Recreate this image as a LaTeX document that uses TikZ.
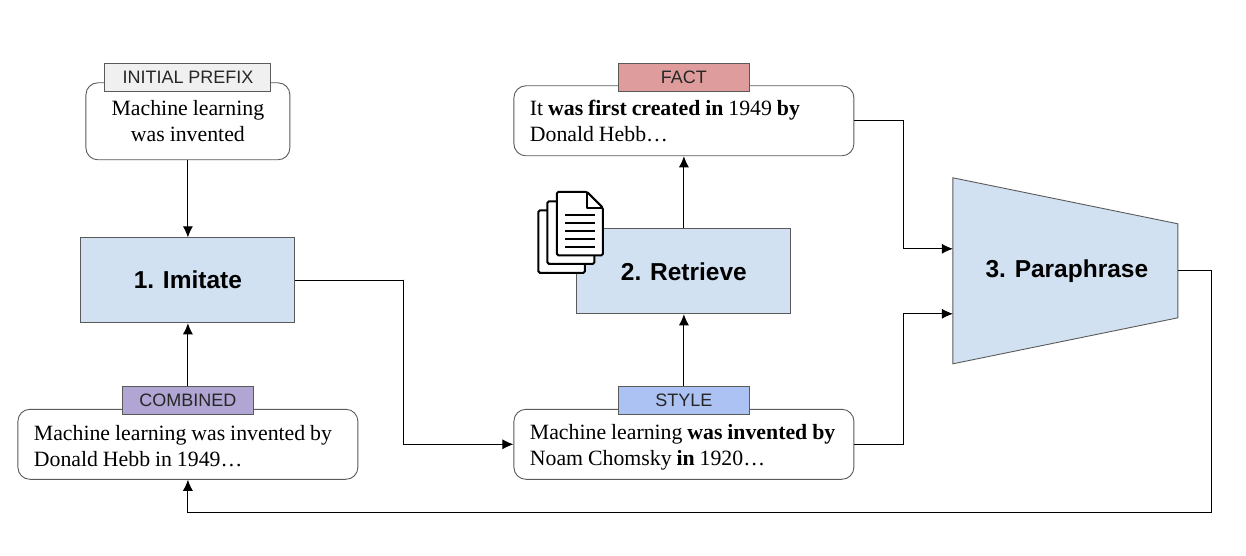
\documentclass[tikz,border=0pt]{standalone}
\usepackage{fontspec}
\setmainfont[WordSpace=0.9]{Liberation Serif}
\setsansfont[WordSpace=0.95]{Liberation Sans}
\usetikzlibrary{arrows.meta}

\definecolor{stepblue}{HTML}{D2E1F2}
\definecolor{linegray}{HTML}{5A5A5A}
\definecolor{tagprefix}{HTML}{F0F0F0}
\definecolor{tagfact}{HTML}{DE9C9D}
\definecolor{tagstyle}{HTML}{ACC2F2}
\definecolor{tagcombined}{HTML}{B1A5D3}

\tikzset{
  textbox/.style={draw=linegray, line width=0.9pt, fill=white, rounded corners=12pt, minimum height=70pt, inner sep=0pt, font=\fontsize{21.8}{26}\selectfont},
  leftbox/.style={textbox, minimum width=340pt, text width=308pt, align=flush left},
  tagbox/.style={draw=linegray, line width=0.9pt, minimum height=28pt, inner sep=0pt, text=black!85, font=\sffamily\fontsize{18}{20}\selectfont},
  stepbox/.style={draw=linegray, line width=0.9pt, fill=stepblue, minimum width=214pt, minimum height=85pt, font=\sffamily\bfseries\fontsize{24.5}{28}\selectfont},
  link/.style={draw=black, line width=0.9pt, -{Latex[length=11pt,width=10pt]}},
  sheet/.style={draw=black, fill=white, line width=2pt, rounded corners=1.5pt}
}

\begin{document}
\begin{tikzpicture}[x=1pt, y=-1pt]
  \useasboundingbox (0.1,0.2) rectangle (1246.1,556.2);

  % steps
  \node[stepbox, text height=20pt, text depth=3pt] (imitate) at (188,280.5) {1. Imitate};
  \node[stepbox, text height=22pt, text depth=3pt] (retrieve) at (684,271.5) {2. Retrieve};

  % paraphrase block
  \coordinate (paraA) at (953,178);
  \coordinate (paraB) at (1178,224);
  \coordinate (paraC) at (1178,318);
  \coordinate (paraD) at (953,364);
  \coordinate (paraIn1) at (953,249);
  \coordinate (paraIn2) at (953,314);
  \coordinate (paraOut) at (1178,271);
  \coordinate (busIn) at (904,280);
  \coordinate (busImitate) at (404,280);
  \coordinate (busBack) at (1212,513);
  \draw[linegray, fill=stepblue, line width=0.9pt] (paraA) -- (paraB) -- (paraC) -- (paraD) -- cycle;
  \node[font=\sffamily\bfseries\fontsize{24.5}{28}\selectfont] (paraphrase) at (1067,271.5) {3. Paraphrase};

  % text boxes
  \node[textbox, minimum width=204pt, minimum height=77pt, align=center] (prefix) at (188,121.5) {Machine learning\\was invented};
  \node[leftbox] (fact) at (684,121) {It \textbf{was first created in} 1949 \textbf{by}\\Donald Hebb…};
  \node[leftbox] (style) at (684,444.5) {\rule{0pt}{22pt}Machine learning \textbf{was invented by}\\Noam Chomsky \textbf{in} 1920…};
  \node[leftbox] (combined) at (188,444.5) {\rule{0pt}{19pt}Machine learning was invented by\\Donald Hebb in 1949…};

  % tags
  \node[tagbox, fill=tagprefix, minimum width=166pt] (tagPrefix) at (188,78) {INITIAL PREFIX};
  \node[tagbox, fill=tagfact, minimum width=131pt] (tagFact) at (684,78) {FACT};
  \node[tagbox, fill=tagstyle, minimum width=131pt] (tagStyle) at (684,400.5) {STYLE};
  \node[tagbox, fill=tagcombined, minimum width=131pt] (tagCombined) at (188,400.5) {COMBINED};

  % connectors
  \draw[link] (prefix.south) -- (imitate.north);
  \draw[link] (tagCombined.north) -- (imitate.south);
  \draw[link] (imitate.east) -| (busImitate) |- (style.west);
  \draw[link] (tagStyle.north) -- (retrieve.south);
  \draw[link] (retrieve.north) -- (fact.south);
  \draw[link] (fact.east) -| (busIn |- paraIn1) -- (paraIn1);
  \draw[link] (style.east) -| (busIn |- paraIn2) -- (paraIn2);
  \draw[link] (paraOut) -| (busBack) -| (combined.south);

  % documents icon
  \draw[sheet] (538.5,210.5) rectangle (585,273);
  \draw[sheet] (547.5,201.5) rectangle (594.5,264);
  \draw[sheet] (557,192) -- (587,192) -- (603,208) -- (603,255.5) -- (557,255.5) -- cycle;
  \draw[black, line width=2pt, line join=round] (587,192) -- (587,208) -- (603,208);
  \foreach \y in {215.5,223.3,231,239,246.8} {
    \draw[black, line width=1.8pt] (565,\y) -- (595,\y);
  }
\end{tikzpicture}
\end{document}
